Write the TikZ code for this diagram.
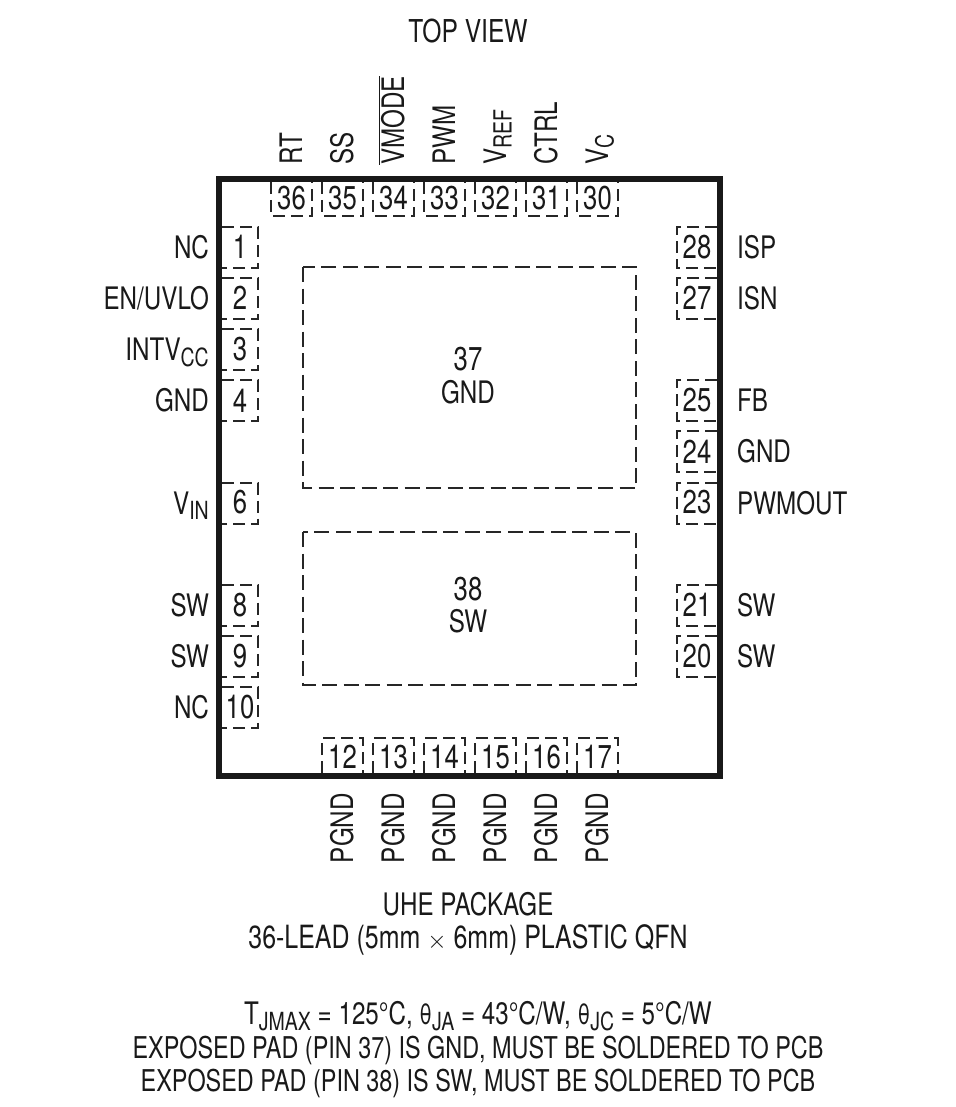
\documentclass[tikz,border=0pt]{standalone}
\usepackage{fontspec}
\setmainfont[FakeStretch=0.78]{TeX Gyre Heros}
\newcommand{\sbs}[1]{\raisebox{-0.35ex}{\fontsize{25}{27}\selectfont #1}}
\newcommand{\thetasym}{{\fontsize{28}{30}\selectfont θ}}
\tikzset{
	pinline/.style={line width=2pt, dash pattern=on 12pt off 6pt, black!85},
	padline/.style={line width=2pt, dash pattern=on 15pt off 6.5pt, black!85},
	pintext/.style={inner sep=0pt, black!90, font=\fontsize{31}{33}\selectfont},
	pinnum/.style={inner sep=0pt, black!90, font=\fontsize{33}{35}\selectfont},
	pkgtext/.style={inner sep=0pt, black!90, align=center, font=\fontsize{32}{32}\selectfont},
	notetext/.style={inner sep=0pt, black!90, align=center, font=\fontsize{30}{32}\selectfont},
}

\begin{document}
\begin{tikzpicture}[x=1pt, y=-1pt]
	\useasboundingbox (0,0) rectangle (955,1107);

	% Package outline
	\draw[line width=6pt, black!90] (219,179) rectangle (720,776);

	% Exposed pads
	\draw[padline] (303,267) rectangle (636,488);
	\draw[padline] (303,532) rectangle (636,685);
	\node[pinnum] (pad37) at (468,359) {37};
	\node[pintext] (gnd37) at (468,392) {GND};
	\node[pinnum] (pad38) at (468,589) {38};
	\node[pintext] (sw38) at (468,621) {SW};

	% Left side pins
	\foreach \n/\lab in {1/NC, 2/{EN/UVLO}, 3/INTV\sbs{CC}, 4/GND, 6/V\sbs{IN}, 8/SW, 9/SW, 10/NC} {
		\pgfmathsetmacro{\y}{247+(\n-1)*51.1}
		\draw[pinline] (222,\y-20) -- (258,\y-20) -- (258,\y+21) -- (222,\y+21);
		\node[pinnum] (pin\n) at (240,\y) {\n};
		\node[pintext, anchor=base east] (lab\n) at (209,\y+11.5) {\lab};
	}

	% Right side pins
	\foreach \n/\lab in {28/ISP, 27/ISN, 25/FB, 24/GND, 23/PWMOUT, 21/SW, 20/SW} {
		\pgfmathsetmacro{\y}{247+(28-\n)*51.1}
		\draw[pinline] (717,\y-20) -- (677,\y-20) -- (677,\y+21) -- (717,\y+21);
		\node[pinnum] (pin\n) at (697,\y) {\n};
		\node[pintext, anchor=base west] (lab\n) at (737,\y+11.5) {\lab};
	}

	% Top side pins
	\foreach \n/\lab in {36/RT, 35/SS, 34/$\overline{\mbox{VMODE}}$, 33/PWM, 32/V\sbs{REF}, 31/CTRL, 30/V\sbs{C}} {
		\pgfmathsetmacro{\x}{291.5+(36-\n)*51}
		\draw[pinline] (\x-20.5,182) -- (\x-20.5,216) -- (\x+20.5,216) -- (\x+20.5,182);
		\node[pinnum] (pin\n) at (\x,198) {\n};
		\node[pintext, rotate=90, anchor=base west] (lab\n) at (\x+10.5,165) {\lab};
	}

	% Bottom side pins
	\foreach \n in {12,...,17} {
		\pgfmathsetmacro{\x}{342.5+(\n-12)*51}
		\draw[pinline] (\x-20.5,773) -- (\x-20.5,738) -- (\x+20.5,738) -- (\x+20.5,773);
		\node[pinnum] (pin\n) at (\x,757) {\n};
		\node[pintext, rotate=90, anchor=base east] (lab\n) at (\x+10.5,793) {PGND};
	}

	% Captions
	\node[pintext, font=\fontsize{31.5}{33}\selectfont] (topview) at (468,31) {TOP VIEW};
	\node[pkgtext] (package) at (468,924) {{\fontsize{31}{32}\selectfont UHE PACKAGE}\\[1pt]36-LEAD (5mm $\times$ 6mm) PLASTIC QFN};
	\node[notetext] (notes) at (478,1050) {{\fontsize{31}{32}\selectfont T\sbs{JMAX} = 125°C, \thetasym\sbs{JA} = 43°C/W, \thetasym\sbs{JC} = 5°C/W}\\[1.5pt]EXPOSED PAD (PIN 37) IS GND, MUST BE SOLDERED TO PCB\\[1.5pt]EXPOSED PAD (PIN 38) IS SW, MUST BE SOLDERED TO PCB};
\end{tikzpicture}
\end{document}
